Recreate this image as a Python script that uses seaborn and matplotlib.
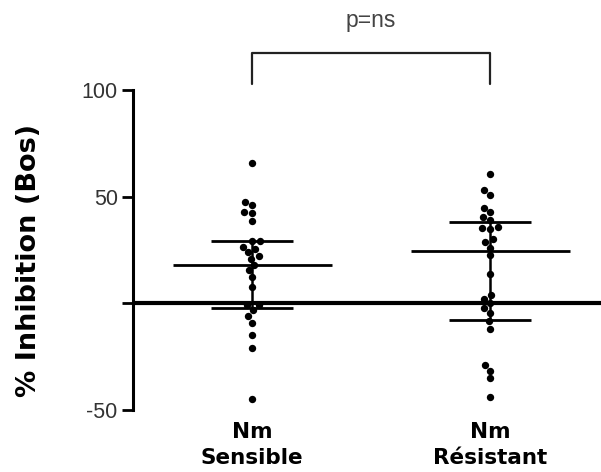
import matplotlib
matplotlib.use("Agg")
import matplotlib.pyplot as plt
import seaborn as sns
import pandas as pd

# ---- data ----
categories = ["Nm\nSensible", "Nm\nRésistant"]
sensible = [66, 47.3, 46, 42.6, 42.3, 38.8, 29.2, 29.2, 26.6, 25.4, 24.1, 22.2,
            21.0, 17.8, 15.5, 12.4, 7.7, -0.9, -0.9, -3.3, -6, -9, -15, -20.8, -44.7]
resistant = [60.6, 53, 50.7, 44.7, 42.6, 40.5, 39, 35.8, 35, 35.4, 30, 28.8, 26.1,
             22.5, 13.9, 4, 2.2, 0, -2.2, -4.4, -8.5, -11.9, -29, -31.5, -35, -44]
center = [18.2, 24.6]
lower = [-2.4, -7.7]
upper = [29.2, 38.0]
yticks = [-50, 0, 50, 100]
ytick_labels = ["-50", "", "50", "100"]
ylabel = "% Inhibition (Bos)"
annot = "p=ns"

df = pd.DataFrame({
    "group": [categories[0]] * len(sensible) + [categories[1]] * len(resistant),
    "value": sensible + resistant,
})

sns.set_style("white")
plt.rcParams["font.family"] = ["Liberation Sans", "DejaVu Sans"]

fig = plt.figure(figsize=(6.01, 4.72), dpi=100)
ax = fig.add_axes([133 / 601, 1 - 410 / 472, 1 - 133 / 601, 320 / 472])

sns.swarmplot(data=df, x="group", y="value", order=categories, color="black",
              size=5.3, ax=ax, zorder=3)

xpos = list(range(len(categories)))
ax.axhline(0, color="black", lw=3, zorder=2)
ax.hlines(center, [x - 0.334 for x in xpos], [x + 0.334 for x in xpos],
          color="black", lw=2, zorder=4)
ax.hlines(upper, [x - 0.172 for x in xpos], [x + 0.172 for x in xpos],
          color="black", lw=2, zorder=4)
ax.hlines(lower, [x - 0.172 for x in xpos], [x + 0.172 for x in xpos],
          color="black", lw=2, zorder=4)
ax.vlines(xpos, lower, upper, color="black", lw=1.8, zorder=4)

# significance bracket
ax.plot([xpos[0], xpos[0], xpos[1], xpos[1]], [103, 117.5, 117.5, 103],
        color="#222222", lw=1.6, clip_on=False)
ax.text((xpos[0] + xpos[1]) / 2, 132.5, annot, ha="center", va="center",
        fontsize=16.5, color="#444444")

ax.set_xlim(-0.5, 1.466)
ax.set_ylim(-50, 100)
ax.set_yticks(yticks)
ax.set_yticklabels(ytick_labels, fontsize=15.5, color="#333333")
ax.set_xticks(xpos)
ax.set_xticklabels(categories, fontsize=15.5, fontweight="bold", color="black",
                   family=["DejaVu Sans"], linespacing=1.35)
ax.tick_params(axis="y", left=True, length=8, width=2, pad=3, color="black")
ax.tick_params(axis="x", bottom=False, length=0, pad=9)
ax.set_xlabel("")
ax.set_ylabel(ylabel, fontsize=19.5, fontweight="bold", color="black",
              family=["DejaVu Sans"])
ax.yaxis.set_label_coords(-0.194, 0.466)

for s in ["top", "right", "bottom"]:
    ax.spines[s].set_visible(False)
ax.spines["left"].set_linewidth(2.2)
ax.spines["left"].set_color("black")

fig.savefig("out.png", dpi=100)
